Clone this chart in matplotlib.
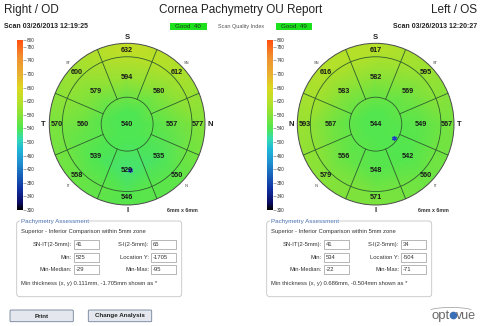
import matplotlib
matplotlib.use('Agg')
import matplotlib.pyplot as plt
import matplotlib.tri as mtri
import numpy as np
from matplotlib.colors import LinearSegmentedColormap, Normalize
from matplotlib.patches import Circle, Rectangle, FancyBboxPatch
import matplotlib.cm as cm

plt.rcParams['font.family'] = ['Liberation Sans', 'DejaVu Sans']

W, H = 483, 326

# sector thickness (um), counter-clockwise starting at superior
od_center = 540
od_mid = [594, 579, 560, 539, 529, 535, 557, 580]
od_out = [632, 600, 570, 558, 546, 550, 577, 612]
od_names = ['S', 'ST', 'T', 'IT', 'I', 'IN', 'N', 'SN']
os_center = 544
os_mid = [582, 583, 567, 556, 548, 542, 549, 569]
os_out = [617, 616, 593, 579, 571, 560, 567, 595]
os_names = ['S', 'SN', 'N', 'IN', 'I', 'IT', 'T', 'ST']

# min thickness location (mm)
od_min_xy = (0.111, -1.705)
os_min_xy = (0.686, -0.504)

od_stats = [('SN-IT(2-5mm):', '41', 'S-I(2-5mm):', '65'),
            ('Min:', '525', 'Location Y:', '-1705'),
            ('Min-Median:', '-29', 'Min-Max:', '-95')]
os_stats = [('SN-IT(2-5mm):', '41', 'S-I(2-5mm):', '34'),
            ('Min:', '534', 'Location Y:', '-504'),
            ('Min-Median:', '-22', 'Min-Max:', '-71')]
od_note = 'Min thickness (x, y) 0.111mm, -1.705mm shown as *'
os_note = 'Min thickness (x, y) 0.686mm, -0.504mm shown as *'
scan_times = ['Scan 03/26/2013 12:19:25', 'Scan 03/26/2013 12:20:27']
quality = [40, 49]
cbar_ticks = [300, 340, 380, 420, 460, 500, 540, 580, 620, 660, 700, 740, 780, 800]

cmap = LinearSegmentedColormap.from_list('pachy', [
    (0.00, '#000000'), (0.04, '#0a0a60'), (0.12, '#1030a0'),
    (0.20, '#1860b8'), (0.28, '#2090d0'), (0.36, '#20b8d8'),
    (0.42, '#34dcb0'), (0.48, '#50e650'), (0.56, '#88e238'),
    (0.64, '#b8e028'), (0.72, '#dcd820'), (0.80, '#e8b030'),
    (0.90, '#f09030'), (1.00, '#ff5010')])
norm = Normalize(300, 800)

fig = plt.figure(figsize=(W / 100, H / 100), dpi=100)


def px_axes(x0, y0, x1, y1):
    return fig.add_axes([x0 / W, 1 - y1 / H, (x1 - x0) / W, (y1 - y0) / H])


bg = px_axes(0, 0, W, H)
bg.set_xlim(0, W)
bg.set_ylim(H, 0)
bg.axis('off')

# header
bg.text(4, 10, 'Right / OD', fontsize=8.5, va='center', color='#222')
bg.text(241, 10, 'Cornea Pachymetry OU Report', fontsize=8.5, ha='center', va='center', color='#222')
bg.text(477, 10, 'Left / OS', fontsize=8.5, ha='right', va='center', color='#222')
bg.text(4, 26, scan_times[0], fontsize=5, weight='bold', va='center', color='#222')
bg.text(477, 26, scan_times[1], fontsize=5, weight='bold', ha='right', va='center', color='#222')
for qx, q in zip([170, 275.5], quality):
    bg.add_patch(Rectangle((qx, 22.7), 36.5, 7.3, fc='#1ee11e', ec='none'))
    bg.text(qx + 18.2, 26.4, 'Good  %d' % q, fontsize=4.5, ha='center', va='center', color='#1a3a1a')
bg.text(241, 26.4, 'Scan Quality Index', fontsize=4, ha='center', va='center', color='#555')


def draw_map(x0, y0, x1, y1, center, mid, out, names, min_xy, side_l, side_r):
    ax = px_axes(x0, y0, x1, y1)
    ax.set_xlim(-3, 3)
    ax.set_ylim(-3, 3)
    ax.axis('off')
    ang = np.deg2rad(90 + 45 * np.arange(8))
    xs, ys, zs = [0.0], [0.0], [center]
    for r, vals in [(0.5, [center] * 8), (1.75, mid), (2.75, out), (3.4, out)]:
        xs += list(r * np.cos(ang))
        ys += list(r * np.sin(ang))
        zs += list(vals)
    tri = mtri.Triangulation(xs, ys)
    tp = ax.tripcolor(tri, zs, cmap=cmap, norm=norm, shading='gouraud')
    tp.set_clip_path(Circle((0, 0), 3, transform=ax.transData))
    for r in (1, 2.5):
        ax.add_patch(Circle((0, 0), r, fill=False, ec='#2f5d2f', lw=0.6))
    ax.add_patch(Circle((0, 0), 3, fill=False, ec='#4a4a4a', lw=0.7, clip_on=False))
    for a in np.deg2rad(67.5 + 45 * np.arange(8)):
        ax.plot([np.cos(a), 3 * np.cos(a)], [np.sin(a), 3 * np.sin(a)],
                color='#2f5d2f', lw=0.6)
    kw = dict(fontsize=5.2, weight='bold', ha='center', va='center', color='#1a1a1a')
    ax.text(0, 0, str(center), **kw)
    for a, m, o in zip(ang, mid, out):
        ax.text(1.72 * np.cos(a), 1.72 * np.sin(a), str(m), **kw)
        ax.text(2.72 * np.cos(a), 2.72 * np.sin(a), str(o), **kw)
    for k in (1, 3, 5, 7):
        ax.text(3.22 * np.cos(ang[k]), 3.22 * np.sin(ang[k]), names[k],
                fontsize=2.8, ha='center', va='center', color='#444')
    lkw = dict(fontsize=5.5, weight='bold', ha='center', va='center', color='#222')
    ax.text(0, 3.2, 'S', **lkw)
    ax.text(0, -3.22, 'I', **lkw)
    ax.text(-3.25, 0, side_l, **lkw)
    ax.text(3.22, 0, side_r, **lkw)
    ax.plot(*min_xy, marker=(6, 2, 0), ms=3.5, mew=0.9, color='#2040c0')
    return ax


draw_map(49.3, 43.3, 205, 205, od_center, od_mid, od_out, od_names, od_min_xy, 'T', 'N')
draw_map(297.3, 43.3, 454, 205, os_center, os_mid, os_out, os_names, os_min_xy, 'N', 'T')

sm = cm.ScalarMappable(norm=norm, cmap=cmap)
for cx in (17, 267):
    cax = px_axes(cx, 40, cx + 6, 210)
    cb = fig.colorbar(sm, cax=cax, ticks=cbar_ticks)
    cb.outline.set_visible(False)
    cax.tick_params(labelsize=3.4, length=2, width=0.4, color='#666', pad=0.6, labelcolor='#333')

bg.text(182, 210, '6mm x 6mm', fontsize=3.8, weight='bold', ha='center', va='center', color='#333')
bg.text(433, 210, '6mm x 6mm', fontsize=3.8, weight='bold', ha='center', va='center', color='#333')


def draw_panel(x0, stats, note):
    bg.add_patch(FancyBboxPatch((x0, 221), 165, 75.7,
                                boxstyle='round,pad=0,rounding_size=3',
                                fc='white', ec='#c4c4c4', lw=0.6))
    bg.text(x0 + 4, 221.5, 'Pachymetry Assessment', fontsize=4.5, va='center', color='#4a6fb0',
            bbox=dict(fc='white', ec='none', pad=0.3))
    bg.text(x0 + 4, 231, 'Superior - Inferior Comparison within 5mm zone',
            fontsize=4.2, va='center', color='#333')
    for y, (l1, v1, l2, v2) in zip([244.3, 257.3, 269.3], stats):
        for lx, bx, lab, val in [(55, 57.3, l1, v1), (132.6, 134.3, l2, v2)]:
            bg.text(x0 + lx, y, lab, fontsize=4.2, ha='right', va='center', color='#333')
            bg.add_patch(Rectangle((x0 + bx, y - 4.2), 25, 8.4, fc='white', ec='#9a9a9a', lw=0.5))
            bg.text(x0 + bx + 1.5, y, val, fontsize=4.2, va='center', color='#333')
    bg.text(x0 + 4, 284, note, fontsize=4.2, va='center', color='#333')


draw_panel(16.7, od_stats, od_note)
draw_panel(266.7, os_stats, os_note)

# buttons
for bx, bw, label in [(10, 63.3, 'Print'), (88.3, 63.4, 'Change Analysis')]:
    bg.add_patch(FancyBboxPatch((bx, 310), bw, 11.7, boxstyle='round,pad=0,rounding_size=1',
                                fc='#e4e8ee', ec='#6f7f99', lw=0.6))
    bg.text(bx + bw / 2, 316, label, fontsize=4.5, weight='bold', ha='center', va='center', color='#222')

# logo
lx = np.linspace(431, 471, 40)
bg.plot(lx, 311 - 3.5 * np.sqrt(np.clip(1 - ((lx - 451) / 22) ** 2, 0, 1)), color='#999', lw=0.5)
bg.text(449.3, 319, 'opt', fontsize=9.5, ha='right', va='baseline', color='#6a6a6a')
bg.plot(452.8, 315.3, 'o', ms=4.5, color='#3a6fb8', mec='#3a6fb8')
bg.text(456.4, 319, 'vue', fontsize=9, ha='left', va='baseline', color='#6a6a6a')

fig.savefig('out.png', dpi=100, facecolor='white')
